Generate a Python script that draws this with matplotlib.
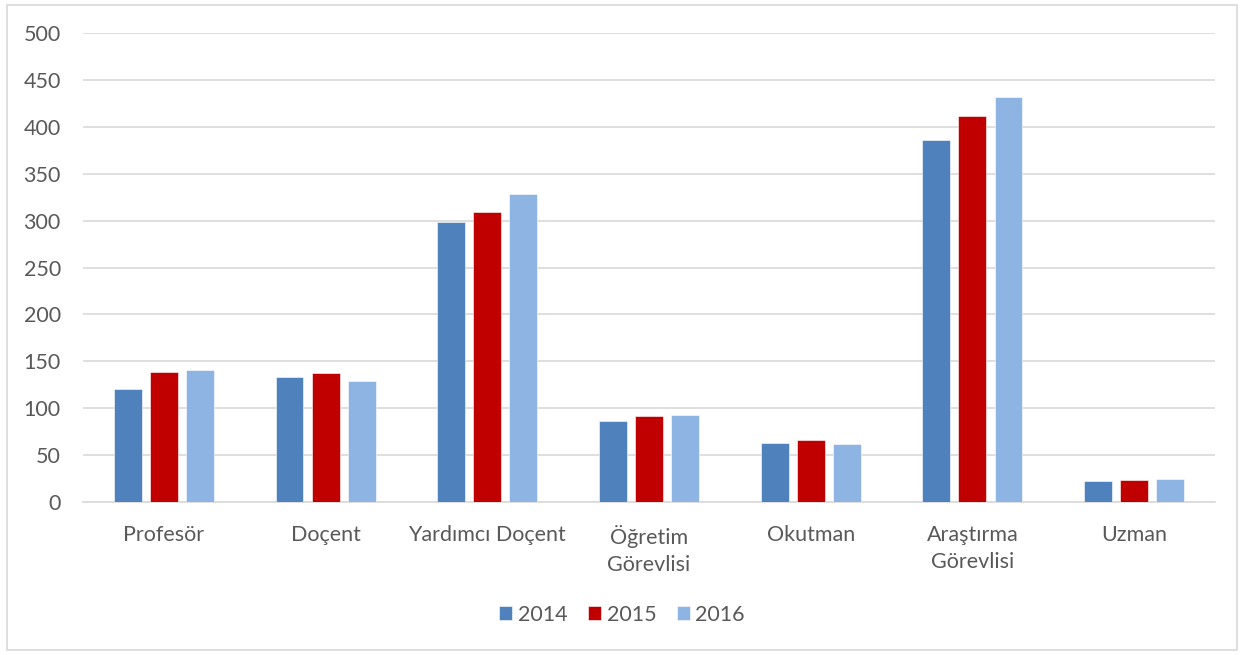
import matplotlib.pyplot as plt
from matplotlib.patches import Rectangle
import numpy as np

# values
categories = ['Profesör', 'Doçent', 'Yardımcı Doçent', 'Öğretim\nGörevlisi',
              'Okutman', 'Araştırma\nGörevlisi', 'Uzman']
years = ['2014', '2015', '2016']
v2014 = [120, 133, 299, 86, 63, 386, 22]
v2015 = [139, 138, 309, 92, 66, 412, 23]
v2016 = [141, 129, 328, 93, 62, 432, 24]
colors = ['#4F81BD', '#C00000', '#8EB4E3']

plt.rcParams['font.family'] = ['Lato', 'DejaVu Sans']
txt = '#595959'
grid = '#D9D9D9'

fig = plt.figure(figsize=(12.44, 6.55), dpi=100)
ax = fig.add_axes([83/1244, 1-502/655, (1215-83)/1244, (502-33)/655])

x = np.arange(len(categories))
w = 0.173
step = 0.223
for i, (vals, yr) in enumerate(zip([v2014, v2015, v2016], years)):
    ax.bar(x + (i-1)*step, vals, w, color=colors[i], label=yr,
           edgecolor='white', linewidth=0.4, zorder=3)

ax.set_xlim(-0.5, len(categories)-0.5)
ax.set_ylim(0, 500)
ax.set_yticks(range(0, 501, 50))
ax.set_xticks(x)
ax.set_xticklabels(categories, fontsize=15.5, color=txt, linespacing=1.45)
ax.tick_params(axis='y', labelsize=15.5, labelcolor=txt, length=0, pad=16)
ax.tick_params(axis='x', length=0, pad=16.5)
ax.grid(axis='y', color=grid, linewidth=1.2, zorder=0)
for s in ['top', 'right', 'left']:
    ax.spines[s].set_visible(False)
ax.spines['bottom'].set_color(grid)
ax.spines['bottom'].set_linewidth(1.2)

fig.legend(loc='center', bbox_to_anchor=(0.5, 1-615/655), ncol=3, frameon=False,
           fontsize=15.5, labelcolor=txt, handlelength=0.62, handleheight=0.62,
           handletextpad=0.25, columnspacing=0.95)

fig.add_artist(Rectangle((7/1244, 5/655), 1230/1244, 645/655, transform=fig.transFigure,
                         fill=False, edgecolor=grid, linewidth=1.2))

fig.savefig('out.png', dpi=100)
